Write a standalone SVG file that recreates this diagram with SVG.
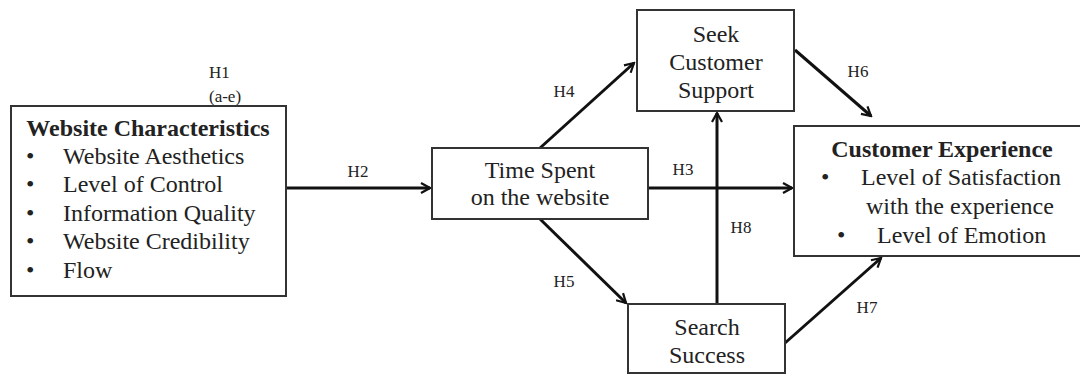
<svg xmlns="http://www.w3.org/2000/svg" width="1080" height="376" viewBox="0 0 1080 376">
<style>
.box{fill:#fff;stroke:#333;stroke-width:2}
.t{font-family:"Liberation Serif","Times New Roman",serif;font-size:24px;fill:#222}
.b{font-weight:bold;font-size:24px}
.m{text-anchor:middle}
.lbl{font-family:"Liberation Serif","Times New Roman",serif;font-size:17px;fill:#222}
.c{stroke:#111;stroke-width:3;fill:none;marker-end:url(#ah)}
</style>
<defs>
<marker id="ah" viewBox="0 0 12 12" refX="10" refY="6" markerWidth="4" markerHeight="4" orient="auto" markerUnits="strokeWidth">
<path d="M1,1 L10,6 L1,11" fill="none" stroke="#111" stroke-width="2.2"/>
</marker>
</defs>
<g id="connectors">
<line class="c" x1="286" y1="188" x2="430" y2="188"/>
<line class="c" x1="648" y1="188" x2="792" y2="188"/>
<line class="c" x1="540" y1="148" x2="634" y2="63"/>
<line class="c" x1="540" y1="219" x2="626" y2="303"/>
<line class="c" x1="795" y1="50" x2="871" y2="116"/>
<line class="c" x1="717" y1="304" x2="717" y2="113"/>
<line class="c" x1="785" y1="343" x2="881" y2="258"/>
<text class="lbl" x="209" y="78">H1</text>
<text class="lbl" x="209" y="102">(a-e)</text>
<text class="lbl m" x="358" y="177">H2</text>
<text class="lbl m" x="683" y="175">H3</text>
<text class="lbl m" x="564" y="97">H4</text>
<text class="lbl m" x="564" y="287">H5</text>
<text class="lbl m" x="858" y="77">H6</text>
<text class="lbl m" x="867" y="313">H7</text>
<text class="lbl m" x="741" y="233">H8</text>
</g>
<g id="website-characteristics">
<rect class="box" x="11" y="106" width="275" height="190"/>
<text class="t b m" x="148" y="136">Website Characteristics</text>
<text class="t" x="26" y="164">•</text><text class="t" x="63" y="164">Website Aesthetics</text>
<text class="t" x="26" y="192">•</text><text class="t" x="63" y="192">Level of Control</text>
<text class="t" x="26" y="221">•</text><text class="t" x="63" y="221">Information Quality</text>
<text class="t" x="26" y="249">•</text><text class="t" x="63" y="249">Website Credibility</text>
<text class="t" x="26" y="278">•</text><text class="t" x="63" y="278">Flow</text>
</g>
<g id="time-spent">
<rect class="box" x="432" y="148" width="216" height="71"/>
<text class="t m" x="540" y="178">Time Spent</text>
<text class="t m" x="540" y="205">on the website</text>
</g>
<g id="seek-support">
<rect class="box" x="637" y="10" width="157" height="101"/>
<text class="t m" x="716" y="42">Seek</text>
<text class="t m" x="716" y="70">Customer</text>
<text class="t m" x="716" y="98">Support</text>
</g>
<g id="search-success">
<rect class="box" x="628" y="304" width="157" height="69"/>
<text class="t m" x="707" y="335">Search</text>
<text class="t m" x="707" y="363">Success</text>
</g>
<g id="customer-experience">
<rect class="box" x="794" y="126" width="300" height="130"/>
<text class="t b m" x="942" y="157">Customer Experience</text>
<text class="t" x="821" y="185">•</text><text class="t" x="861" y="185">Level of Satisfaction</text>
<text class="t" x="866" y="214">with the experience</text>
<text class="t" x="837" y="243">•</text><text class="t" x="877" y="243">Level of Emotion</text>
</g>
</svg>
